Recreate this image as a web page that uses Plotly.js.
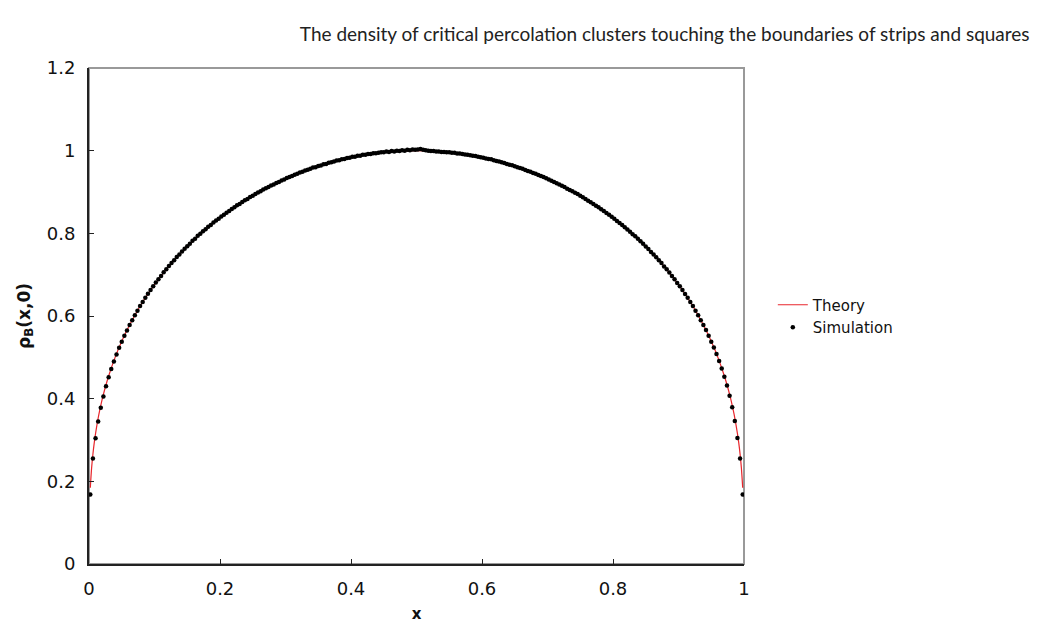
<!DOCTYPE html>
<html>
<head>
<meta charset="utf-8">
<script src="https://cdn.plot.ly/plotly-3.0.1.min.js"></script>
<style>html,body{margin:0;padding:0;background:#fff;}#chart{width:1040px;height:627px;}</style>
</head>
<body>
<div id="chart"></div>
<script>
// Theory curve
var theoryX = [0.002,0.004,0.006,0.008,0.01,0.015,0.02,0.025,0.03,0.04,0.05,0.06,0.07,0.08,0.09,0.1,0.12,0.14,0.16,0.18,0.2,0.22,0.24,0.26,0.28,0.3,0.32,0.34,0.36,0.38,0.4,0.42,0.44,0.46,0.48,0.5,
  0.52,0.54,0.56,0.58,0.6,0.62,0.64,0.66,0.68,0.7,0.72,0.74,0.76,0.78,0.8,0.82,0.84,0.86,0.88,0.9,0.91,0.92,0.93,0.94,0.95,0.96,0.97,0.975,0.98,0.985,0.99,0.992,0.994,0.996,0.998];
var theoryY = [0.1845,0.2325,0.2661,0.2929,0.3155,0.3612,0.3975,0.4282,0.4549,0.5005,0.5387,0.5722,0.6020,0.6289,0.6534,0.6761,0.7167,0.7522,0.7840,0.8123,0.8377,0.8606,0.8814,0.9001,0.9168,0.9318,0.9451,0.9569,0.9672,0.9760,0.9834,0.9894,0.9941,0.9974,0.9993,1.0000,
  0.9993,0.9974,0.9941,0.9894,0.9834,0.9760,0.9672,0.9569,0.9451,0.9318,0.9168,0.9001,0.8814,0.8606,0.8377,0.8123,0.7840,0.7522,0.7167,0.6761,0.6534,0.6289,0.6020,0.5722,0.5387,0.5005,0.4549,0.4282,0.3975,0.3612,0.3155,0.2929,0.2661,0.2325,0.1845];

// Simulation points
var simX = [0.002,0.006,0.010,0.014,0.018,0.022,0.026,0.030,0.034,0.038,0.042,0.046,0.050,0.054,0.058,0.062,0.066,0.070,0.074,0.078,
  0.082,0.086,0.090,0.094,0.098,0.102,0.106,0.110,0.114,0.118,0.122,0.126,0.130,0.134,0.138,0.142,0.146,0.150,0.154,0.158,
  0.162,0.166,0.170,0.174,0.178,0.182,0.186,0.190,0.194,0.198,0.202,0.206,0.210,0.214,0.218,0.222,0.226,0.230,0.234,0.238,
  0.242,0.246,0.250,0.254,0.258,0.262,0.266,0.270,0.274,0.278,0.282,0.286,0.290,0.294,0.298,0.302,0.306,0.310,0.314,0.318,
  0.322,0.326,0.330,0.334,0.338,0.342,0.346,0.350,0.354,0.358,0.362,0.366,0.370,0.374,0.378,0.382,0.386,0.390,0.394,0.398,
  0.402,0.406,0.410,0.414,0.418,0.422,0.426,0.430,0.434,0.438,0.442,0.446,0.450,0.454,0.458,0.462,0.466,0.470,0.474,0.478,
  0.482,0.486,0.490,0.494,0.498,
  0.502,0.506,0.510,0.514,0.518,0.522,0.526,0.530,0.534,0.538,0.542,0.546,0.550,0.554,0.558,0.562,0.566,0.570,0.574,0.578,
  0.582,0.586,0.590,0.594,0.598,0.602,0.606,0.610,0.614,0.618,0.622,0.626,0.630,0.634,0.638,0.642,0.646,0.650,0.654,0.658,
  0.662,0.666,0.670,0.674,0.678,0.682,0.686,0.690,0.694,0.698,0.702,0.706,0.710,0.714,0.718,0.722,0.726,0.730,0.734,0.738,
  0.742,0.746,0.750,0.754,0.758,0.762,0.766,0.770,0.774,0.778,0.782,0.786,0.790,0.794,0.798,0.802,0.806,0.810,0.814,0.818,
  0.822,0.826,0.830,0.834,0.838,0.842,0.846,0.850,0.854,0.858,0.862,0.866,0.870,0.874,0.878,0.882,0.886,0.890,0.894,0.898,
  0.902,0.906,0.910,0.914,0.918,0.922,0.926,0.930,0.934,0.938,0.942,0.946,0.950,0.954,0.958,0.962,0.966,0.970,0.974,0.978,
  0.982,0.986,0.990,0.994,0.998];
var simY = [0.168,0.255,0.304,0.345,0.378,0.405,0.430,0.452,0.472,0.490,0.507,0.523,0.538,0.552,0.565,0.578,0.590,0.602,0.613,0.624,
  0.634,0.644,0.654,0.663,0.672,0.681,0.689,0.697,0.706,0.713,0.721,0.728,0.735,0.743,0.749,0.756,0.763,0.769,0.775,0.782,
  0.787,0.794,0.799,0.805,0.810,0.816,0.820,0.826,0.831,0.835,0.841,0.845,0.850,0.854,0.859,0.863,0.868,0.871,0.876,0.880,
  0.883,0.888,0.891,0.895,0.899,0.902,0.906,0.909,0.912,0.916,0.918,0.922,0.924,0.928,0.930,0.934,0.936,0.939,0.942,0.944,
  0.947,0.949,0.952,0.954,0.956,0.959,0.960,0.963,0.964,0.967,0.968,0.971,0.972,0.974,0.976,0.977,0.979,0.980,0.982,0.983,
  0.985,0.985,0.988,0.988,0.990,0.990,0.992,0.992,0.994,0.994,0.995,0.996,0.996,0.998,0.997,0.999,0.998,1.000,0.999,1.001,
  1.000,1.002,1.001,1.003,1.002,
  1.003,1.004,1.002,1.001,1.000,0.999,0.999,0.998,0.998,0.997,0.997,0.996,0.996,0.995,0.995,0.993,0.993,0.992,0.991,0.990,
  0.989,0.988,0.987,0.985,0.984,0.983,0.981,0.980,0.979,0.977,0.975,0.974,0.972,0.970,0.968,0.966,0.965,0.962,0.960,0.958,
  0.956,0.953,0.951,0.949,0.946,0.944,0.941,0.939,0.936,0.933,0.930,0.927,0.924,0.921,0.918,0.915,0.912,0.908,0.905,0.902,
  0.898,0.895,0.891,0.887,0.883,0.879,0.875,0.871,0.867,0.863,0.858,0.854,0.849,0.845,0.840,0.835,0.830,0.825,0.820,0.815,
  0.809,0.804,0.798,0.793,0.787,0.781,0.775,0.768,0.762,0.755,0.749,0.742,0.735,0.728,0.720,0.713,0.705,0.697,0.689,0.680,
  0.672,0.663,0.653,0.644,0.634,0.624,0.613,0.602,0.590,0.578,0.566,0.552,0.538,0.524,0.508,0.491,0.473,0.453,0.432,0.407,
  0.379,0.346,0.305,0.255,0.168];

var seriesNames = ['Theory', 'Simulation'];
var chartTitle = 'The density of critical percolation clusters touching the boundaries of strips and squares';
var xTitle = 'x';
var yTitle = 'ρ<sub>B</sub>(x,0)';

var traces = [
  {x: theoryX, y: theoryY, name: seriesNames[0], type: 'scatter', mode: 'lines',
   line: {color: '#e8262c', width: 1.2, shape: 'spline'}},
  {x: simX, y: simY, name: seriesNames[1], type: 'scatter', mode: 'markers',
   marker: {color: '#000', size: 4.5, symbol: 'circle'}}
];

var tickFont = {family: 'DejaVu Sans, Verdana, sans-serif', size: 18, color: '#111'};
var layout = {
  width: 1040, height: 627,
  margin: {l: 89, r: 296, t: 68, b: 63, pad: 0},
  paper_bgcolor: '#fff', plot_bgcolor: '#fff',
  title: {text: chartTitle, font: {family: 'Lato, sans-serif', size: 19, color: '#222'},
          xref: 'container', x: 0.99, xanchor: 'right', yref: 'container', y: 0.945, yanchor: 'middle'},
  xaxis: {range: [0, 1], dtick: 0.2, tick0: 0, showgrid: false, zeroline: false,
          showline: true, linecolor: '#222', linewidth: 2,
          ticks: 'inside', ticklen: 5, tickcolor: '#222', tickwidth: 1,
          tickfont: tickFont, ticklabelstandoff: 7,
          title: {text: '<b>' + xTitle + '</b>', font: {family: 'DejaVu Sans, sans-serif', size: 15, color: '#111'}, standoff: 11}},
  yaxis: {range: [0, 1.2], dtick: 0.2, tick0: 0, showgrid: false, zeroline: false,
          showline: true, linecolor: '#222', linewidth: 2,
          ticks: 'inside', ticklen: 5, tickcolor: '#222', tickwidth: 1,
          tickfont: tickFont, ticklabelstandoff: 8,
          title: {text: '<b>' + yTitle + '</b>', font: {family: 'DejaVu Sans, sans-serif', size: 17, color: '#111'}, standoff: 12}},
  showlegend: true,
  legend: {x: 1.044, xanchor: 'left', y: 0.5, yanchor: 'middle', bgcolor: 'rgba(0,0,0,0)',
           font: {family: 'DejaVu Sans, sans-serif', size: 15, color: '#111'}, tracegroupgap: 0},
  shapes: [{type: 'rect', xref: 'paper', yref: 'paper', x0: 0, x1: 1, y0: 0, y1: 1,
            line: {color: '#999', width: 2}, layer: 'below'}]
};

Plotly.newPlot('chart', traces, layout, {displayModeBar: false, staticPlot: true});
</script>
</body>
</html>
